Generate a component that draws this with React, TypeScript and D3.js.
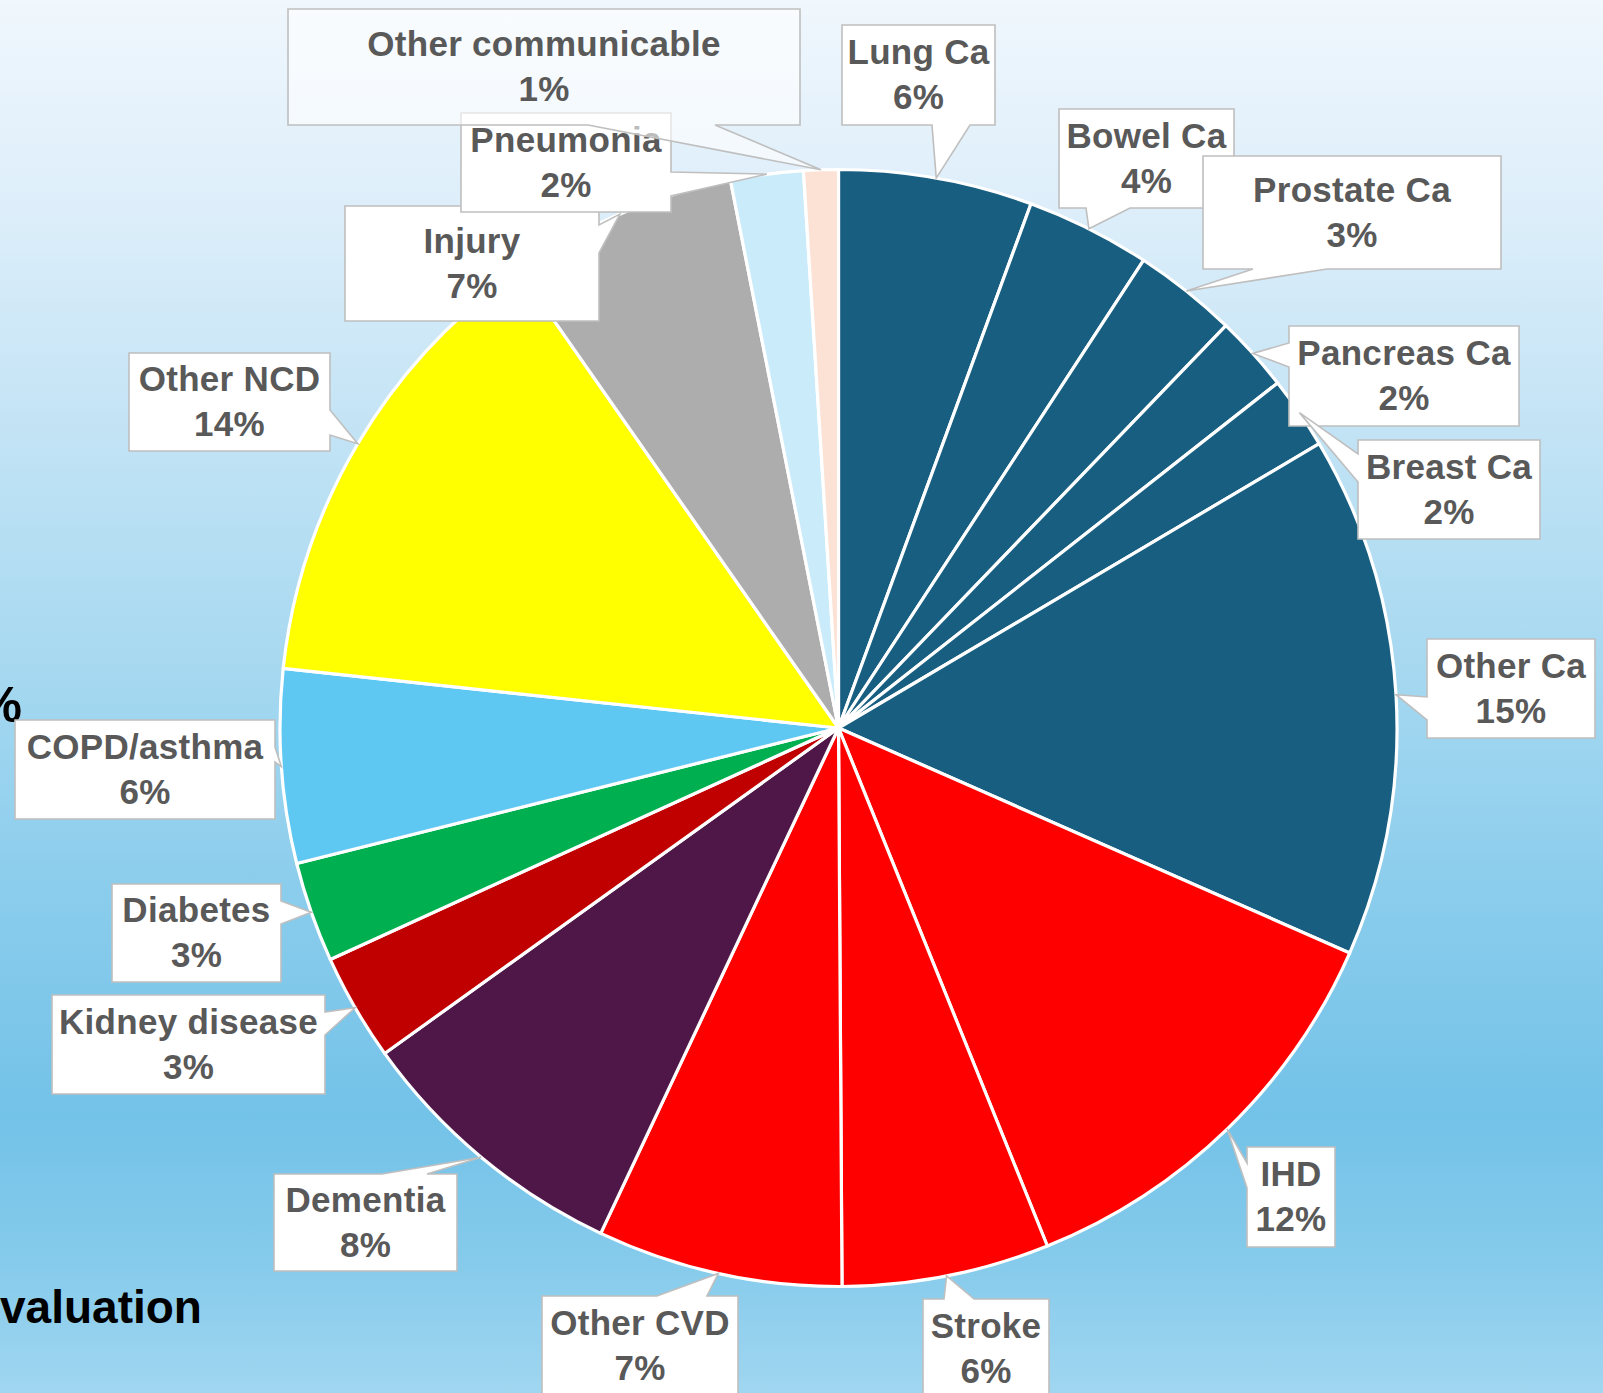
import React from "react";
import * as d3 from "d3";

const categories = [
  "Lung Ca", "Bowel Ca", "Prostate Ca", "Pancreas Ca", "Breast Ca", "Other Ca",
  "IHD", "Stroke", "Other CVD", "Dementia", "Kidney disease", "Diabetes",
  "COPD/asthma", "Other NCD", "Injury", "Pneumonia", "Other communicable",
];
const shares = [5.6, 3.6, 3.0, 2.2, 2.1, 15.1, 12.3, 6.0, 7.1, 8.1, 3.1, 2.9, 5.6, 13.6, 6.6, 2.1, 1.0];
const sliceColors = [
  "#175E80", "#175E80", "#175E80", "#175E80", "#175E80", "#175E80",
  "#FF0000", "#FF0000", "#FF0000", "#4F1747", "#C00000", "#00B050",
  "#5EC8F2", "#FFFF00", "#ADADAD", "#C9EBFA", "#FBE2D5",
];

// label box layout (x, y, w, h, pointer side, pointer base from a to b)
type Box = { x: number; y: number; w: number; h: number; side: string; a: number; b: number; fillOpacity?: number };
const labelBoxes: Box[] = [
  { x: 842, y: 25, w: 153, h: 100, side: "bottom", a: 932, b: 970 },
  { x: 1059, y: 109, w: 175, h: 99, side: "bottom", a: 1086, b: 1130 },
  { x: 1203, y: 156, w: 298, h: 113, side: "bottom", a: 1253, b: 1327 },
  { x: 1289, y: 326, w: 230, h: 100, side: "left", a: 343, b: 367 },
  { x: 1358, y: 440, w: 182, h: 99, side: "left", a: 454, b: 482 },
  { x: 1427, y: 639, w: 168, h: 99, side: "left", a: 697, b: 720 },
  { x: 1247, y: 1147, w: 88, h: 100, side: "left", a: 1163, b: 1188 },
  { x: 923, y: 1299, w: 126, h: 100, side: "top", a: 944, b: 974 },
  { x: 542, y: 1296, w: 196, h: 100, side: "top", a: 657, b: 707 },
  { x: 274, y: 1174, w: 183, h: 97, side: "top", a: 382, b: 427 },
  { x: 52, y: 995, w: 273, h: 99, side: "right", a: 1012, b: 1035 },
  { x: 112, y: 884, w: 169, h: 98, side: "right", a: 901, b: 924 },
  { x: 15, y: 720, w: 260, h: 99, side: "right", a: 747, b: 762 },
  { x: 129, y: 353, w: 201, h: 98, side: "right", a: 410, b: 435 },
  { x: 345, y: 206, w: 254, h: 115, side: "right", a: 225, b: 253 },
  { x: 461, y: 113, w: 210, h: 99, side: "right", a: 172, b: 196 },
  { x: 288, y: 9, w: 512, h: 116, side: "bottom", a: 588, b: 715, fillOpacity: 0.6 },
];

const W = 1603;
const H = 1393;
const CX = 838.5;
const CY = 728;
const R = 558.5;

function calloutPath(bx: Box, tip: [number, number]) {
  const x1 = bx.x, y1 = bx.y, x2 = bx.x + bx.w, y2 = bx.y + bx.h;
  const [tx, ty] = tip;
  const p = d3.path();
  p.moveTo(x1, y1);
  if (bx.side === "top") { p.lineTo(bx.a, y1); p.lineTo(tx, ty); p.lineTo(bx.b, y1); }
  p.lineTo(x2, y1);
  if (bx.side === "right") { p.lineTo(x2, bx.a); p.lineTo(tx, ty); p.lineTo(x2, bx.b); }
  p.lineTo(x2, y2);
  if (bx.side === "bottom") { p.lineTo(bx.b, y2); p.lineTo(tx, ty); p.lineTo(bx.a, y2); }
  p.lineTo(x1, y2);
  if (bx.side === "left") { p.lineTo(x1, bx.b); p.lineTo(tx, ty); p.lineTo(x1, bx.a); }
  p.closePath();
  return p.toString();
}

export default function App() {
  const total = d3.sum(shares);
  const pie = d3.pie<number>().sort(null).value((d) => d).startAngle(0).endAngle(2 * Math.PI);
  const arcs = pie(shares);
  const arc = d3.arc<d3.PieArcDatum<number>>().innerRadius(0).outerRadius(R);
  const edge = d3.arc<d3.PieArcDatum<number>>().innerRadius(R).outerRadius(R);
  const fmt = d3.format(".0%");
  const font = "'Liberation Sans', Arial, sans-serif";

  return (
    <svg width={W} height={H} style={{ position: "absolute", left: 0, top: 0, display: "block" }}>
      <defs>
        <linearGradient id="bg" x1="0" y1="0" x2="0" y2="1">
          <stop offset="0" stopColor="#F0F7FD" />
          <stop offset="0.15" stopColor="#DDEEFA" />
          <stop offset="0.3" stopColor="#C4E4F5" />
          <stop offset="0.5" stopColor="#A3D7F0" />
          <stop offset="0.65" stopColor="#89CCEC" />
          <stop offset="0.8" stopColor="#73C2E8" />
          <stop offset="0.9" stopColor="#84CAEB" />
          <stop offset="1" stopColor="#A0D6F0" />
        </linearGradient>
      </defs>
      <rect x={0} y={0} width={W} height={H} fill="url(#bg)" />
      <text x={22} y={722} textAnchor="end" fontFamily={font} fontWeight="bold" fontSize={50} fill="#000">%</text>
      <text x={0} y={1323} fontFamily={font} fontWeight="bold" fontSize={46} fill="#000">valuation</text>
      <g transform={`translate(${CX},${CY})`}>
        {arcs.map((a, i) => (
          <path key={i} d={arc(a) || ""} fill={sliceColors[i]} stroke="#FFFFFF" strokeWidth={3.2} strokeLinejoin="round" />
        ))}
      </g>
      {arcs.map((a, i) => {
        const c = edge.centroid(a);
        const tip: [number, number] = [CX + c[0], CY + c[1]];
        const bx = labelBoxes[i];
        const cx = bx.x + bx.w / 2;
        const cy = bx.y + bx.h / 2;
        return (
          <g key={i}>
            <path d={calloutPath(bx, tip)} fill="#FFFFFF" fillOpacity={bx.fillOpacity ?? 1} stroke="#BFBFBF" strokeWidth={1.6} />
            <text x={cx} y={cy - 11} textAnchor="middle" fontFamily={font} fontWeight="bold" fontSize={35} letterSpacing={0.3} fill="#595959">{categories[i]}</text>
            <text x={cx} y={cy + 34} textAnchor="middle" fontFamily={font} fontWeight="bold" fontSize={35} letterSpacing={0.3} fill="#595959">{fmt(a.data / total)}</text>
          </g>
        );
      })}
    </svg>
  );
}
